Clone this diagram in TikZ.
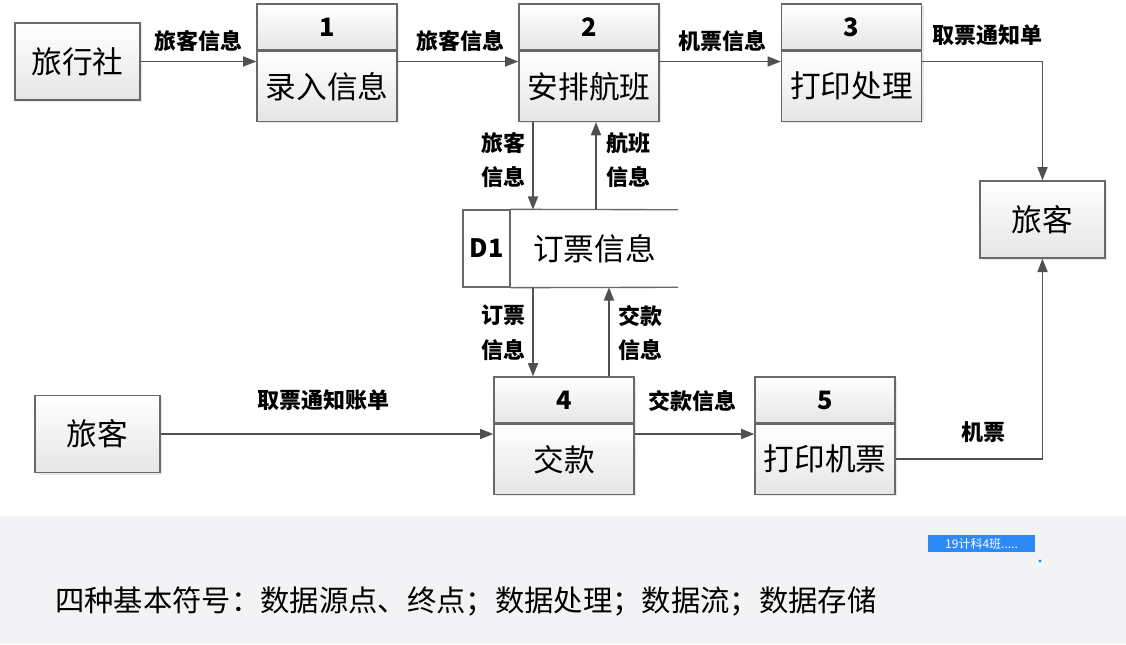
\documentclass[tikz,border=0pt]{standalone}
\usepackage{fontspec}
\setmainfont{Noto Sans CJK SC}
\usetikzlibrary{arrows.meta,positioning,shadows}
\definecolor{linegray}{RGB}{80,80,80}
\definecolor{framegray}{RGB}{105,105,105}
\definecolor{band}{RGB}{243,243,245}
\definecolor{tagblue}{RGB}{45,137,245}

\begin{document}
\begin{tikzpicture}[x=.75pt,y=-.75pt,
  boxbase/.style={draw=framegray,line width=1pt,top color=white,bottom color=gray!20,inner sep=0pt,
    drop shadow={opacity=.18,shadow xshift=1.5pt,shadow yshift=-1.5pt}},
  ent/.style={boxbase,minimum width=93.75pt,minimum height=57.75pt,font=\fontsize{23}{23}\selectfont},
  prochead/.style={boxbase,minimum width=105pt,minimum height=34.5pt,font=\bfseries\fontsize{19}{19}\selectfont},
  procbody/.style={boxbase,minimum width=105pt,minimum height=52.5pt,font=\fontsize{23}{23}\selectfont},
  lbl/.style={font=\bfseries\fontsize{16.5}{26}\selectfont,inner sep=0pt,align=center},
  flow/.style={draw=linegray,line width=1.4pt,-{Triangle[length=10pt,width=7.5pt]}}]
\useasboundingbox (0,0) rectangle (1126,644);
\fill[white] (0,0) rectangle (1126,644);
\fill[band] (0,516) rectangle (1126,644);

% external entities
\node[ent] (agency) at (77.5,61.5) {旅行社};
\node[ent] (pass1) at (1042.5,219.5) {旅客};
\node[ent] (pass2) at (97.5,434) {旅客};

% processes
\node[prochead] (p1h) at (327,27) {1};
\node[procbody,below=0pt of p1h] (p1) {录入信息};
\node[prochead] (p2h) at (589,27) {2};
\node[procbody,below=0pt of p2h] (p2) {安排航班};
\node[prochead] (p3h) at (851.5,27) {3};
\node[procbody,below=0pt of p3h] (p3) {打印处理};
\node[prochead] (p4h) at (564,400) {4};
\node[procbody,below=0pt of p4h] (p4) {交款};
\node[prochead] (p5h) at (825,400) {5};
\node[procbody,below=0pt of p5h] (p5) {打印机票};

% data store
\node[draw=framegray,line width=1pt,fill=white,minimum width=35.25pt,minimum height=57.75pt,inner sep=0pt,
  font=\bfseries\fontsize{19}{19}\selectfont] (d1id) at (486.5,248.5) {D1};
\node[fill=white,minimum width=125.25pt,minimum height=57.75pt,inner sep=0pt,
  font=\fontsize{23}{23}\selectfont,right=0pt of d1id] (d1) {订票信息};
\draw[framegray,line width=1pt] (d1id.north east) -- (d1.north east);
\draw[framegray,line width=1pt] (d1id.south east) -- (d1.south east);

% flows
\draw[flow] (agency) -- (agency -| p1.west);
\draw[flow] (p1.east |- agency) -- (p2.west |- agency);
\draw[flow] (p2.east |- agency) -- (p3.west |- agency);
\draw[flow] (p3.east |- agency) -| (pass1);
\draw[flow] ([xshift=-42pt]p2.south) -- ([xshift=-42pt]p2.south |- d1.north);
\draw[flow] ([xshift=5.25pt]p2.south |- d1.north) -- ([xshift=5.25pt]p2.south);
\draw[flow] ([xshift=-23.25pt]p4h.north |- d1.south) -- ([xshift=-23.25pt]p4h.north);
\draw[flow] ([xshift=33.75pt]p4h.north) -- ([xshift=33.75pt]p4h.north |- d1.south);
\draw[flow] (pass2) -- (pass2 -| p4.west);
\draw[flow] (p4.east |- pass2) -- (p5.west |- pass2);
\draw[flow] (p5) -| (pass1);

% flow labels
\node[lbl] (l1) at (198,41) {旅客信息};
\node[lbl] (l2) at (460,41) {旅客信息};
\node[lbl] (l3) at (722,41) {机票信息};
\node[lbl] (l4) at (987,35) {取票通知单};
\node[lbl] (l5) at (503,160) {旅客\\信息};
\node[lbl] (l6) at (628,160) {航班\\信息};
\node[lbl] (l7) at (503,333) {订票\\信息};
\node[lbl] (l8) at (640,333) {交款\\信息};
\node[lbl] (l9) at (323,400) {取票通知账单};
\node[lbl] (l10) at (692,401) {交款信息};
\node[lbl] (l11) at (983,432) {机票};

% caption band
\node[anchor=west,inner sep=0pt,font=\fontsize{22}{22}\selectfont] (caption) at (55,601)
  {四种基本符号：数据源点、终点；数据处理；数据流；数据存储};
\node[fill=tagblue,text=white,minimum width=80pt,minimum height=12.75pt,inner sep=0pt,
  font=\fontsize{9}{9}\selectfont] (tag) at (981.5,543.5) {19计科4班.....};
\fill[tagblue] (1040,561) circle (1.2pt);
\end{tikzpicture}
\end{document}
